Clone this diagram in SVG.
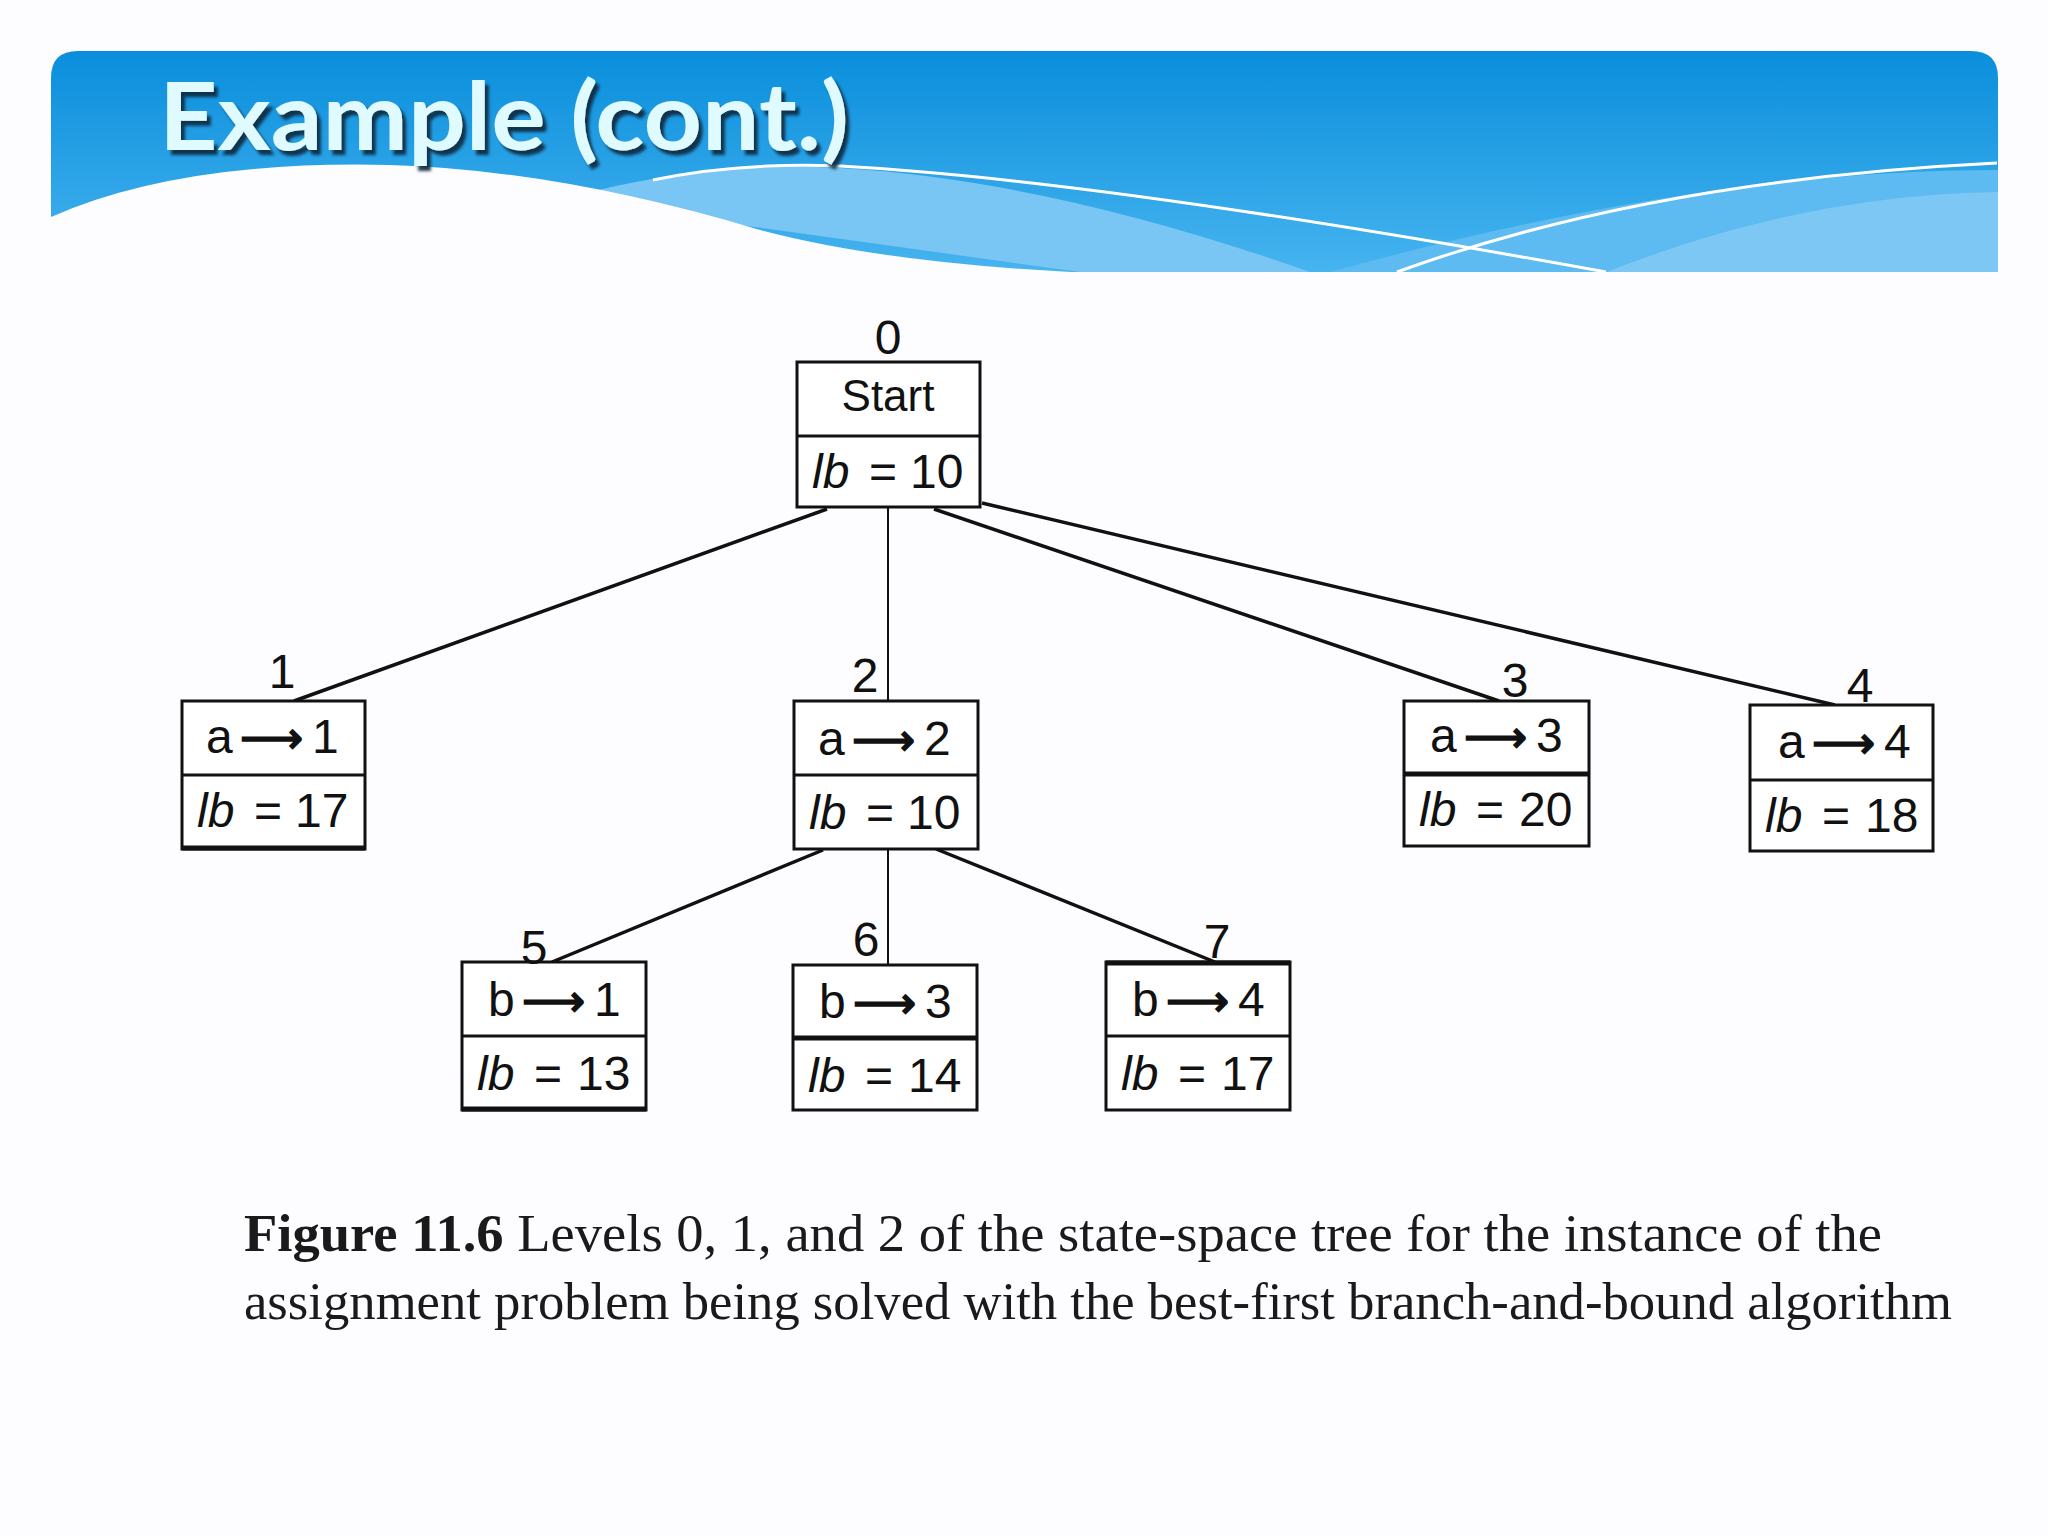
<svg xmlns="http://www.w3.org/2000/svg" width="2048" height="1536" viewBox="0 0 2048 1536">
<defs>
<linearGradient id="hdr" x1="0" y1="0" x2="0" y2="1">
<stop offset="0" stop-color="#0a8edc"/>
<stop offset="1" stop-color="#46b4ef"/>
</linearGradient>
<filter id="shadow" x="-5%" y="-20%" width="115%" height="150%">
<feDropShadow dx="4" dy="5" stdDeviation="1.5" flood-color="#10283d" flood-opacity="0.9"/>
</filter>
<style>
.box{fill:#ffffff;stroke:#111;stroke-width:3}
.div{stroke:#111;stroke-width:3}
.t{font-family:"Liberation Sans",Arial,sans-serif;font-size:48px;fill:#111}
.num{font-family:"Liberation Sans",Arial,sans-serif;font-size:48px;fill:#111;text-anchor:middle}
.it{font-style:italic}
.arr{font-family:"DejaVu Sans",sans-serif;font-size:44px;stroke:#111;stroke-width:1.6}
.edge{stroke:#111;stroke-width:3.5;fill:none}
.cap{font-family:"Liberation Serif","Times New Roman",serif;font-size:52px;fill:#1a1a1a}
.title{font-family:Lato,"Open Sans",sans-serif;font-weight:bold;font-size:94px}
</style>
</defs>
<rect width="2048" height="1536" fill="#fdfcfe"/>

<g id="header">
<path d="M51,272 V78 Q51,51 78,51 H1971 Q1998,51 1998,78 V272 Z" fill="url(#hdr)"/>
<path d="M560,200 Q700,160 840,168 Q1050,180 1310,272 H1080 Z" fill="#79c5f3"/>
<path d="M1606,272 Q1800,195 1998,190 V272 Z" fill="#7cc7f3"/>
<path d="M1330,272 Q1700,170 1998,170 V192 Q1800,195 1606,272 Z" fill="#5dbbf1"/>
<path d="M51,272 V217 Q180,160 390,165 Q560,170 760,230 Q880,262 1071,272 Z" fill="#fdfcfe"/>
<path d="M653,180 Q740,162 840,166 Q1100,180 1606,272" fill="none" stroke="#ffffff" stroke-width="3"/>
<path d="M1397,272 Q1650,180 1997,163" fill="none" stroke="#ffffff" stroke-width="3"/>
<text x="159" y="150" class="title" fill="#dffbff" filter="url(#shadow)" textLength="690" lengthAdjust="spacingAndGlyphs">Example (cont.)</text>
</g>

<g id="connectors">
<line class="edge" x1="827" y1="509" x2="294" y2="701"/>
<line class="edge" x1="888" y1="507" x2="888" y2="701" style="stroke-width:2"/>
<line class="edge" x1="934" y1="509" x2="1499" y2="701"/>
<line class="edge" x1="982" y1="503" x2="1835" y2="705"/>
<line class="edge" x1="823" y1="850" x2="552" y2="962"/>
<line class="edge" x1="888" y1="849" x2="888" y2="965" style="stroke-width:2"/>
<line class="edge" x1="936" y1="849" x2="1215" y2="962"/>
</g>

<g id="node0">
<rect class="box" x="797" y="362" width="183" height="145"/>
<line class="div" x1="797" y1="436" x2="980" y2="436"/>
<text class="num" x="888" y="354">0</text>
<text class="t" x="888" y="411" text-anchor="middle" style="font-size:44px">Start</text>
<text class="t" y="488"><tspan x="812" class="it">lb</tspan><tspan x="869">=</tspan><tspan x="910">10</tspan></text>
</g>

<g id="node1">
<rect class="box" x="182" y="701" width="183" height="148"/>
<line class="div" x1="182" y1="775" x2="365" y2="775"/>
<line class="div" x1="182" y1="848" x2="365" y2="848" style="stroke-width:5"/>
<text class="num" x="282" y="688">1</text>
<text class="t" y="753"><tspan x="206">a</tspan><tspan class="arr" x="240">⟶</tspan><tspan x="312">1</tspan></text>
<text class="t" y="827"><tspan x="197" class="it">lb</tspan><tspan x="254">=</tspan><tspan x="295">17</tspan></text>
</g>

<g id="node2">
<rect class="box" x="794" y="701" width="184" height="148"/>
<line class="div" x1="794" y1="775" x2="978" y2="775"/>
<text class="num" x="865" y="692">2</text>
<text class="t" y="755"><tspan x="818">a</tspan><tspan class="arr" x="852">⟶</tspan><tspan x="924">2</tspan></text>
<text class="t" y="829"><tspan x="809" class="it">lb</tspan><tspan x="866">=</tspan><tspan x="907">10</tspan></text>
</g>

<g id="node3">
<rect class="box" x="1404" y="701" width="185" height="145"/>
<line class="div" x1="1404" y1="774" x2="1589" y2="774" style="stroke-width:5"/>
<text class="num" x="1515" y="697">3</text>
<text class="t" y="752"><tspan x="1430">a</tspan><tspan class="arr" x="1464">⟶</tspan><tspan x="1536">3</tspan></text>
<text class="t" y="826"><tspan x="1419" class="it">lb</tspan><tspan x="1476">=</tspan><tspan x="1519">20</tspan></text>
</g>

<g id="node4">
<rect class="box" x="1750" y="705" width="183" height="146"/>
<line class="div" x1="1750" y1="780" x2="1933" y2="780"/>
<text class="num" x="1860" y="702">4</text>
<text class="t" y="758"><tspan x="1778">a</tspan><tspan class="arr" x="1812">⟶</tspan><tspan x="1884">4</tspan></text>
<text class="t" y="832"><tspan x="1765" class="it">lb</tspan><tspan x="1822">=</tspan><tspan x="1865">18</tspan></text>
</g>

<g id="node5">
<rect class="box" x="462" y="962" width="184" height="148"/>
<line class="div" x1="462" y1="1036" x2="646" y2="1036"/>
<line class="div" x1="462" y1="1109" x2="646" y2="1109" style="stroke-width:5"/>
<text class="num" x="534" y="964">5</text>
<text class="t" y="1016"><tspan x="488">b</tspan><tspan class="arr" x="522">⟶</tspan><tspan x="594">1</tspan></text>
<text class="t" y="1090"><tspan x="477" class="it">lb</tspan><tspan x="534">=</tspan><tspan x="577">13</tspan></text>
</g>

<g id="node6">
<rect class="box" x="793" y="965" width="184" height="145"/>
<line class="div" x1="793" y1="1038" x2="977" y2="1038" style="stroke-width:5"/>
<text class="num" x="866" y="956">6</text>
<text class="t" y="1018"><tspan x="819">b</tspan><tspan class="arr" x="853">⟶</tspan><tspan x="925">3</tspan></text>
<text class="t" y="1092"><tspan x="808" class="it">lb</tspan><tspan x="865">=</tspan><tspan x="908">14</tspan></text>
</g>

<g id="node7">
<rect class="box" x="1106" y="962" width="184" height="148"/>
<line class="div" x1="1106" y1="1036" x2="1290" y2="1036"/>
<line class="div" x1="1106" y1="963" x2="1290" y2="963" style="stroke-width:5"/>
<text class="num" x="1217" y="958">7</text>
<text class="t" y="1016"><tspan x="1132">b</tspan><tspan class="arr" x="1166">⟶</tspan><tspan x="1238">4</tspan></text>
<text class="t" y="1090"><tspan x="1121" class="it">lb</tspan><tspan x="1178">=</tspan><tspan x="1221">17</tspan></text>
</g>

<g id="caption">
<text class="cap" x="244" y="1251" textLength="1638" lengthAdjust="spacingAndGlyphs"><tspan font-weight="bold">Figure 11.6</tspan>  Levels 0, 1, and 2 of the state-space tree for the instance of the</text>
<text class="cap" x="244" y="1319" textLength="1708" lengthAdjust="spacingAndGlyphs">assignment problem being solved with the best-first branch-and-bound algorithm</text>
</g>
</svg>
